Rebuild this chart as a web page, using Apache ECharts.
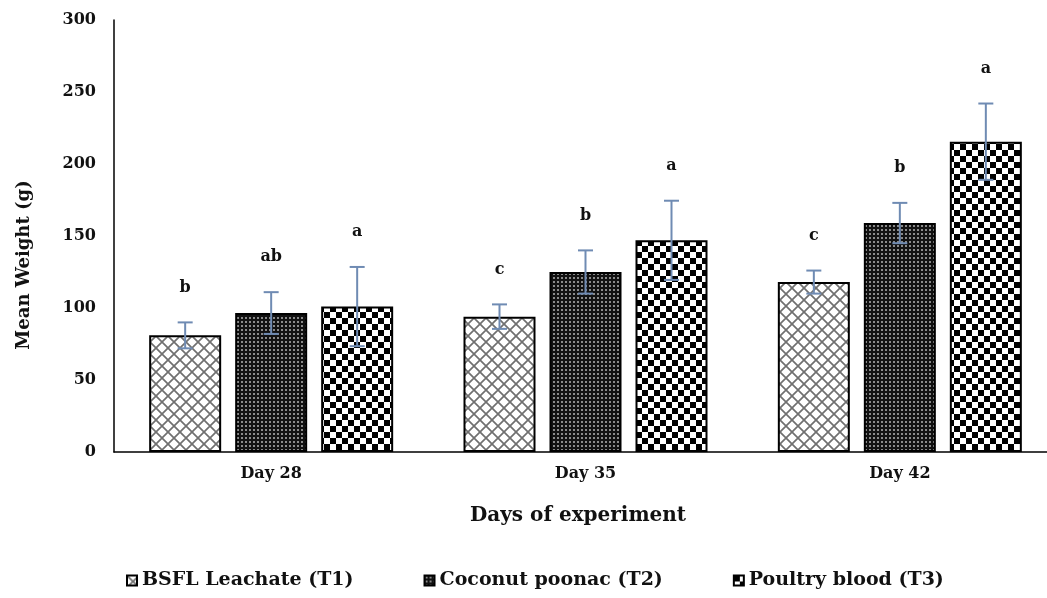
<!DOCTYPE html>
<html>
<head>
<meta charset="utf-8">
<script src="https://cdn.jsdelivr.net/npm/echarts@6/dist/echarts.min.js"></script>
<style>html,body{margin:0;padding:0;background:#fff}#c{width:1047px;height:598px}</style>
</head>
<body>
<div id="c"></div>
<script>
const categories = ['Day 28', 'Day 35', 'Day 42'];
const seriesNames = ['BSFL Leachate (T1)', 'Coconut poonac (T2)', 'Poultry blood (T3)'];
const t1Mean = [81, 94, 118];
const t1Err = [9, 8.5, 8];
const t2Mean = [96.5, 125, 159];
const t2Err = [14.5, 15, 14];
const t3Mean = [101, 147, 215.5];
const t3Err = [27.5, 27.5, 26.5];
const t1Letters = ['b', 'c', 'c'];
const t2Letters = ['ab', 'b', 'b'];
const t3Letters = ['a', 'a', 'a'];
const yMin = 0, yMax = 300, yStep = 50;
const xTitle = 'Days of experiment';
const yTitle = 'Mean Weight (g)';

const FONT = '"DejaVu Serif", "Liberation Serif", serif';

function makeTile(w, h, draw) {
  const c = document.createElement('canvas');
  c.width = w; c.height = h;
  const ctx = c.getContext('2d');
  draw(ctx, w, h);
  return c;
}
const patCross = makeTile(12, 12, (ctx, w, h) => {
  ctx.fillStyle = '#fff'; ctx.fillRect(0, 0, w, h);
  ctx.strokeStyle = '#707070'; ctx.lineWidth = 1.7;
  ctx.beginPath();
  ctx.moveTo(-1, -1); ctx.lineTo(w + 1, h + 1);
  ctx.moveTo(w + 1, -1); ctx.lineTo(-1, h + 1);
  ctx.stroke();
});
const patDots = makeTile(4, 4, (ctx, w, h) => {
  ctx.fillStyle = '#111'; ctx.fillRect(0, 0, w, h);
  ctx.fillStyle = '#8a8a8a'; ctx.fillRect(1, 1, 2, 2);
});
const patChecker = makeTile(12, 12, (ctx, w, h) => {
  ctx.fillStyle = '#fff'; ctx.fillRect(0, 0, w, h);
  ctx.fillStyle = '#000';
  ctx.fillRect(0, 0, 6, 6);
  ctx.fillRect(6, 6, 6, 6);
});
const patterns = [patCross, patDots, patChecker];
const means = [t1Mean, t2Mean, t3Mean];
const errs = [t1Err, t2Err, t3Err];
const letters = [t1Letters, t2Letters, t3Letters];

const BAR_W = 72, BAR_GAP = 14;

const series = [];
seriesNames.forEach((name, i) => {
  series.push({
    name: name,
    type: 'bar',
    data: means[i],
    barWidth: BAR_W,
    barGap: (BAR_GAP / BAR_W * 100) + '%',
    itemStyle: {
      color: { image: patterns[i], repeat: 'repeat' },
      borderColor: '#000',
      borderWidth: 2
    },
    emphasis: { disabled: true },
    z: 2
  });
});
seriesNames.forEach((name, i) => {
  series.push({
    name: 'err' + i,
    type: 'custom',
    z: 5,
    silent: true,
    data: means[i].map((m, k) => [k, m, errs[i][k]]),
    renderItem: function (params, api) {
      const k = api.value(0), m = api.value(1), e = api.value(2);
      const cx = api.coord([k, 0])[0] + (i - 1) * (BAR_W + BAR_GAP);
      const yTop = api.coord([k, m + e])[1];
      const yBot = api.coord([k, m - e])[1];
      const cap = 7.5;
      const st = { stroke: '#6f8bb3', lineWidth: 2 };
      return {
        type: 'group',
        children: [
          { type: 'line', shape: { x1: cx, y1: yTop, x2: cx, y2: yBot }, style: st },
          { type: 'line', shape: { x1: cx - cap, y1: yTop, x2: cx + cap, y2: yTop }, style: st },
          { type: 'line', shape: { x1: cx - cap, y1: yBot, x2: cx + cap, y2: yBot }, style: st },
          { type: 'text', x: cx, y: yTop - 35, style: {
              text: letters[i][params.dataIndex], align: 'center', verticalAlign: 'middle',
              font: 'bold 16px ' + FONT, fill: '#111' } }
        ]
      };
    }
  });
});

const chart = echarts.init(document.getElementById('c'), null, { renderer: 'canvas' });
chart.setOption({
  animation: false,
  backgroundColor: '#fff',
  grid: { left: 114, top: 20, width: 943, height: 432, containLabel: false, outerBoundsMode: 'none' },
  legend: {
    data: seriesNames,
    bottom: 3,
    left: 121,
    itemWidth: 10,
    itemHeight: 10,
    itemGap: 70,
    icon: 'rect',
    textStyle: { fontFamily: FONT, fontWeight: 'bold', fontSize: 19, color: '#111' },
    selectedMode: false
  },
  xAxis: {
    type: 'category',
    data: categories,
    axisLine: { lineStyle: { color: '#000', width: 1.5 } },
    axisTick: { show: false },
    axisLabel: { fontFamily: FONT, fontWeight: 'bold', fontSize: 16, color: '#111', margin: 14 }
  },
  yAxis: {
    type: 'value',
    min: yMin, max: yMax, interval: yStep,
    axisLine: { show: true, lineStyle: { color: '#000', width: 1.5 } },
    axisTick: { show: false },
    splitLine: { show: false },
    axisLabel: { fontFamily: FONT, fontWeight: 'bold', fontSize: 16, color: '#111', margin: 18 }
  },
  graphic: [{
    type: 'text',
    x: 24, y: 265,
    rotation: Math.PI / 2,
    style: { text: yTitle, font: 'bold 18px ' + FONT, fill: '#111', align: 'center', verticalAlign: 'middle' }
  }, {
    type: 'text',
    x: 578, y: 516,
    style: { text: xTitle, font: 'bold 20px ' + FONT, fill: '#111', align: 'center', verticalAlign: 'middle' }
  }],
  series: series
});
</script>
</body>
</html>
